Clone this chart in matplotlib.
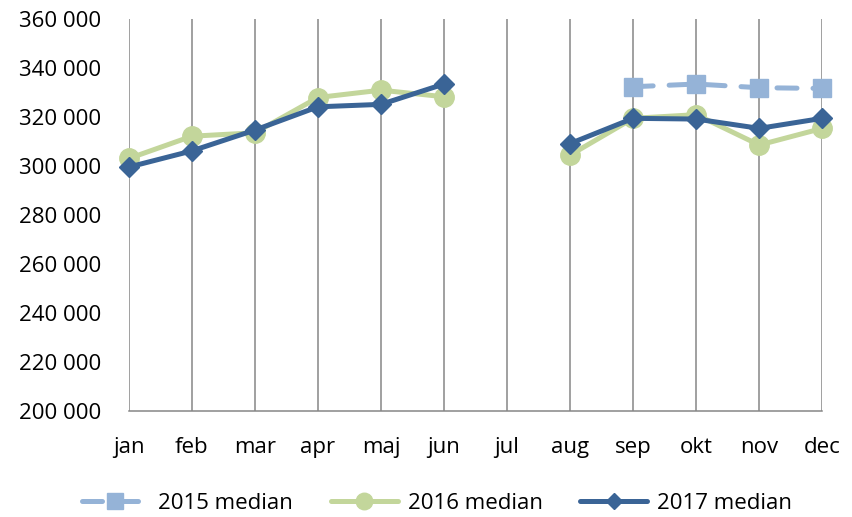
import numpy as np
import matplotlib.pyplot as plt
from matplotlib.ticker import FuncFormatter

# data (NaN = no value)
months = ['jan', 'feb', 'mar', 'apr', 'maj', 'jun', 'jul', 'aug', 'sep', 'okt', 'nov', 'dec']
median_2015 = [np.nan] * 8 + [332400, 333500, 332000, 331700]
median_2016 = [303100, 312200, 313600, 328000, 331000, 328300, np.nan,
               304500, 319500, 321000, 308600, 315400]
median_2017 = [299600, 306200, 314700, 324200, 325200, 333500, np.nan,
               309200, 319500, 319200, 315400, 319500]

c15 = '#95B3D7'
c16 = '#C3D69B'
c17 = '#3A6496'
grid_c = '#868686'

plt.rcParams['font.family'] = ['Open Sans', 'DejaVu Sans']
plt.rcParams['font.size'] = 16

fig = plt.figure(figsize=(8.53, 5.17), dpi=100)
ax = fig.add_axes([0.151, 0.205, 0.813, 0.758])

x = np.arange(len(months))
ax.plot(x, median_2015, color=c15, lw=3.6, ls=(0, (4, 3.2)), dash_capstyle='round',
        marker='s', ms=13.5, mec=c15, mfc=c15, label='2015 median', clip_on=False, zorder=3)
ax.plot(x, median_2016, color=c16, lw=3.6, solid_capstyle='round',
        marker='o', ms=14, mec=c16, mfc=c16, label='2016 median', clip_on=False, zorder=4)
ax.plot(x, median_2017, color=c17, lw=3.6, solid_capstyle='round',
        marker='D', ms=10, mec=c17, mfc=c17, label='2017 median', clip_on=False, zorder=5)

ax.set_xlim(0, 11)
ax.set_ylim(200000, 360000)
ax.set_yticks(np.arange(200000, 360001, 20000))
ax.yaxis.set_major_formatter(FuncFormatter(lambda v, p: f'{int(v):,}'.replace(',', ' ')))
ax.set_xticks(x)
ax.set_xticklabels(months)

for xi in x:
    ax.axvline(xi, color=grid_c, lw=1.1, zorder=1)

for s in ['top', 'right', 'left']:
    ax.spines[s].set_visible(False)
ax.spines['bottom'].set_color(grid_c)
ax.spines['bottom'].set_linewidth(1.1)
ax.tick_params(axis='y', length=0, pad=20)
ax.tick_params(axis='x', length=0, pad=19)

fig.legend(loc='center', bbox_to_anchor=(0.512, 0.027), ncol=3, frameon=False,
           handlelength=3.0, handletextpad=0.45, columnspacing=1.7, markerscale=0.85,
           fontsize=16)

fig.savefig('out.png', dpi=100)
